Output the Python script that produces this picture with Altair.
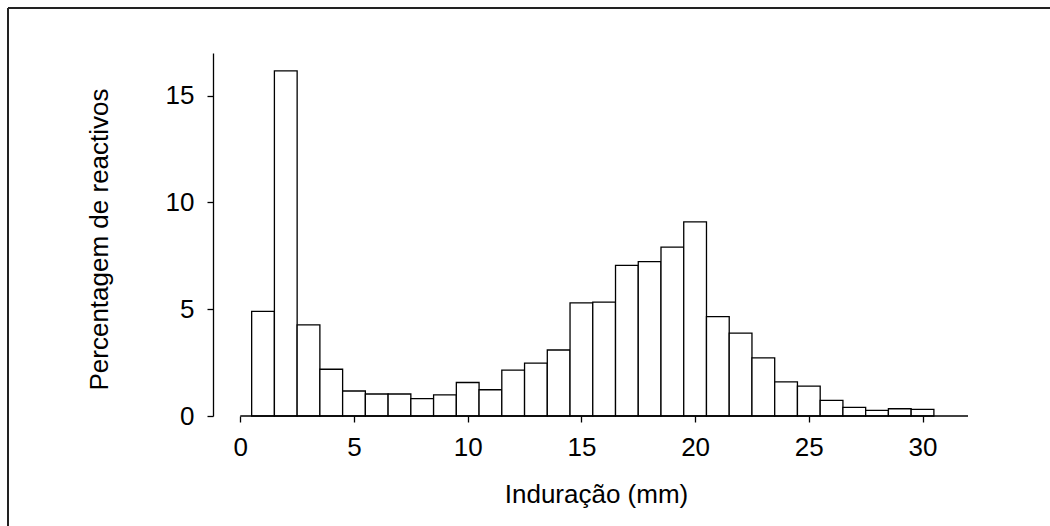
import altair as alt
import pandas as pd

# Histogram bins of induration (mm), 1 mm wide, centred on whole millimetres
bin_lo = [0.5, 1.5, 2.5, 3.5, 4.5, 5.5, 6.5, 7.5, 8.5, 9.5,
          10.5, 11.5, 12.5, 13.5, 14.5, 15.5, 16.5, 17.5, 18.5, 19.5,
          20.5, 21.5, 22.5, 23.5, 24.5, 25.5, 26.5, 27.5, 28.5, 29.5]
bin_hi = [1.5, 2.5, 3.5, 4.5, 5.5, 6.5, 7.5, 8.5, 9.5, 10.5,
          11.5, 12.5, 13.5, 14.5, 15.5, 16.5, 17.5, 18.5, 19.5, 20.5,
          21.5, 22.5, 23.5, 24.5, 25.5, 26.5, 27.5, 28.5, 29.5, 30.5]
# Percentage of reactors in each bin
percent = [4.90, 16.16, 4.27, 2.19, 1.17, 1.03, 1.03, 0.81, 0.99, 1.57,
           1.23, 2.15, 2.48, 3.09, 5.30, 5.33, 7.05, 7.23, 7.91, 9.09,
           4.65, 3.88, 2.72, 1.60, 1.40, 0.73, 0.40, 0.26, 0.34, 0.31]

x_ticks = [0, 5, 10, 15, 20, 25, 30]
y_ticks = [0, 5, 10, 15]
x_domain = [-1.2, 32]
y_domain = [0, 17]
x_line = [0, 32]  # extent of the horizontal axis line

FONT = "Liberation Sans"
PAGE_W, PAGE_H = 1050, 526
W, H = 755, 363
LEFT, TOP = 213, 53

df = pd.DataFrame({"lo": bin_lo, "hi": bin_hi, "pct": percent})
line_df = pd.DataFrame({"x0": [x_line[0]], "x1": [x_line[1]], "y": [0]})

x_scale = alt.Scale(domain=x_domain, nice=False, zero=False)
y_scale = alt.Scale(domain=y_domain, nice=False)

bars = alt.Chart(df).mark_rect(
    fill="white", stroke="black", strokeWidth=1.3
).encode(
    x=alt.X("lo:Q", scale=x_scale, axis=alt.Axis(
        values=x_ticks, domain=False, grid=False, tickSize=6, tickWidth=1.3,
        tickColor="black", labelFont=FONT, labelFontSize=26, labelColor="black",
        labelPadding=12, labelFlush=False,
        title="Induração (mm)", titleFont=FONT, titleFontSize=26,
        titleFontWeight="normal", titleColor="black",
        titleX=383, titleY=86, titleBaseline="alphabetic", titleAlign="center",
    )),
    x2="hi:Q",
    y=alt.Y("pct:Q", scale=y_scale, axis=alt.Axis(
        values=y_ticks, domain=True, domainColor="black", domainWidth=1.3,
        grid=False, tickSize=6, tickWidth=1.3, tickColor="black",
        labelFont=FONT, labelFontSize=26, labelColor="black", labelPadding=13,
        labelFlush=False,
        title="Percentagem de reactivos", titleFont=FONT, titleFontSize=26,
        titleFontWeight="normal", titleColor="black",
        titleX=-106, titleY=186, titleBaseline="alphabetic", titleAlign="center",
        titleAngle=270,
    )),
    y2=alt.datum(0),
)

axis_line = alt.Chart(line_df).mark_rule(color="black", strokeWidth=1.3).encode(
    x=alt.X("x0:Q", scale=x_scale), x2="x1:Q", y=alt.Y("y:Q", scale=y_scale)
)

# Outer frame around the figure
frame_top = alt.Chart(line_df).mark_rule(color="#222222", strokeWidth=2).encode(
    x=alt.value(8 - LEFT), x2=alt.value(PAGE_W - LEFT), y=alt.value(8 - TOP)
)
frame_left = alt.Chart(line_df).mark_rule(color="#222222", strokeWidth=2).encode(
    x=alt.value(8 - LEFT), y=alt.value(8 - TOP), y2=alt.value(PAGE_H - TOP)
)

chart = alt.layer(bars, axis_line, frame_top, frame_left).properties(
    width=W, height=H,
    autosize=alt.AutoSizeParams(type="none"),
    padding={"left": LEFT, "top": TOP,
             "right": PAGE_W - LEFT - W, "bottom": PAGE_H - TOP - H},
    background="white",
).configure_view(stroke=None)

chart.save("out.html", embed_options={"renderer": "svg", "actions": False})
